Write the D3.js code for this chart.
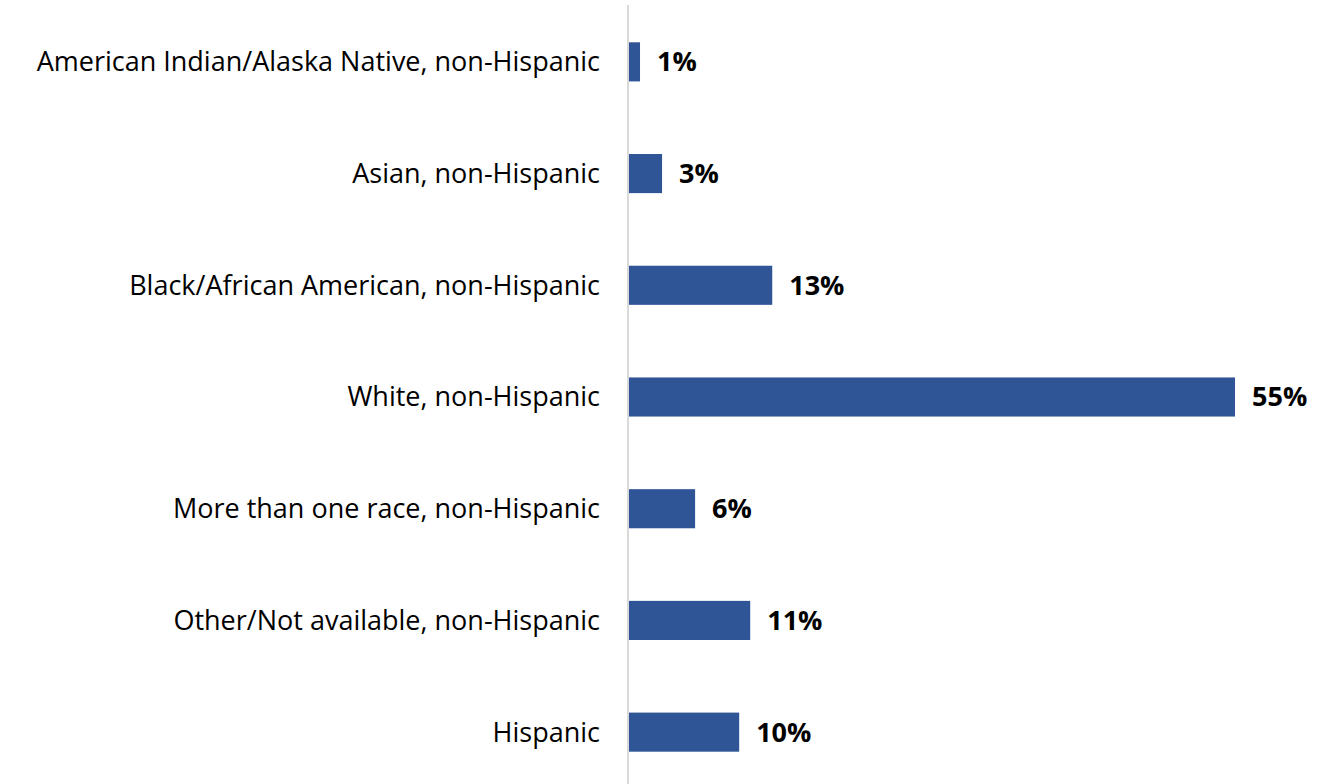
<!DOCTYPE html>
<html>
<head>
<meta charset="utf-8">
<script src="https://cdn.jsdelivr.net/npm/d3@7"></script>
<style>
  body { margin: 0; background: #fff; }
  text { font-family: "Open Sans", Lato, sans-serif; }
</style>
</head>
<body>
<div id="chart"></div>
<script>
// data
const categories = [
    "American Indian/Alaska Native, non-Hispanic",
    "Asian, non-Hispanic",
    "Black/African American, non-Hispanic",
    "White, non-Hispanic",
    "More than one race, non-Hispanic",
    "Other/Not available, non-Hispanic",
    "Hispanic"
];
const values = [1, 3, 13, 55, 6, 11, 10];

const width = 1330;
const height = 784;

const svg = d3.select("#chart")
    .append("svg")
    .attr("width", width)
    .attr("height", height);

const data = categories.map((c, i) => ({ label: c, value: values[i] }));

const y = d3.scaleBand()
    .domain(categories)
    .range([6, 788])
    .paddingInner(0.65)
    .paddingOuter(0.325);

const x = d3.scaleLinear()
    .domain([0, 55])
    .range([629, 1235]);

// bars
svg.selectAll("rect.bar")
    .data(data)
    .enter()
    .append("rect")
    .attr("class", "bar")
    .attr("x", x(0))
    .attr("y", d => y(d.label))
    .attr("width", d => x(d.value) - x(0))
    .attr("height", y.bandwidth())
    .attr("fill", "#2F5597");

// vertical axis line
svg.append("line")
    .attr("x1", x(0) - 1)
    .attr("x2", x(0) - 1)
    .attr("y1", 5)
    .attr("y2", height)
    .attr("stroke", "#d9d9d9")
    .attr("stroke-width", 2);

// category labels
svg.selectAll("text.cat")
    .data(data)
    .enter()
    .append("text")
    .attr("class", "cat")
    .attr("x", 600)
    .attr("y", d => y(d.label) + y.bandwidth() / 2)
    .attr("dy", "0.35em")
    .attr("text-anchor", "end")
    .attr("font-size", 27)
    .attr("fill", "#000")
    .text(d => d.label);

// value labels
svg.selectAll("text.val")
    .data(data)
    .enter()
    .append("text")
    .attr("class", "val")
    .attr("x", d => x(d.value) + 17)
    .attr("y", d => y(d.label) + y.bandwidth() / 2)
    .attr("dy", "0.35em")
    .attr("font-size", 27)
    .attr("font-weight", "bold")
    .attr("fill", "#000")
    .text(d => d.value + "%");
</script>
</body>
</html>
